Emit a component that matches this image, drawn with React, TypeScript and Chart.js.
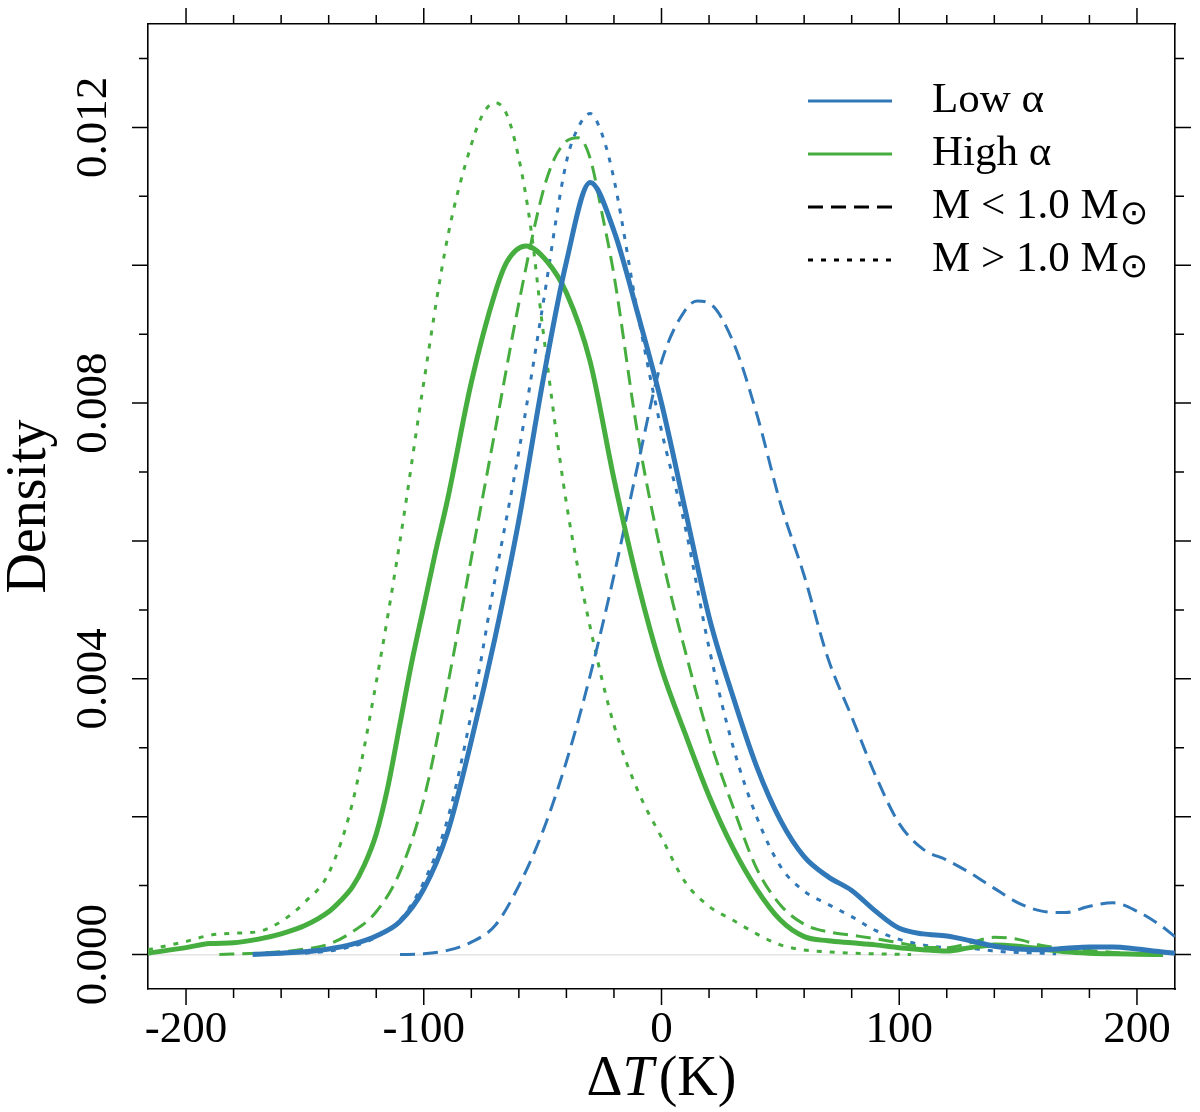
import { useEffect, useRef } from "react"
import { Chart, registerables } from "chart.js"

Chart.register(...registerables)

const BLUE = "#3178b8"
const GREEN = "#46ad3f"
const SERIF = "'Liberation Serif', 'Times New Roman', serif"

// Low alpha, M < 1.0 and M > 1.0 together (solid)
const lowAllT = [-172, -160, -150, -140, -130, -120, -110, -100, -90, -80, -70, -60, -50, -40, -30, -20, -10, 0, 10, 20, 30, 40, 50, 60, 70, 80, 90, 100, 110, 120, 130, 140, 150, 160, 170, 180, 190, 200, 210, 216]
const lowAllD = [0, 0.00002, 0.00004, 0.00008, 0.00015, 0.00027, 0.00048, 0.00095, 0.00177, 0.0031, 0.0046, 0.0063, 0.0083, 0.01005, 0.0112, 0.0105, 0.0093, 0.008, 0.00645, 0.0049, 0.00375, 0.00273, 0.00195, 0.00142, 0.00113, 0.00093, 0.00063, 0.00038, 0.0003, 0.00027, 0.0002, 0.00012, 0.00008, 0.00007, 0.00009, 0.00011, 0.00011, 0.00008, 0.00004, 0.00002]

// Low alpha, M < 1.0 (dashed)
const lowLightT = [-110, -100, -90, -80, -70, -60, -50, -40, -30, -20, -10, 0, 10, 15, 20, 30, 40, 50, 60, 70, 80, 90, 100, 110, 120, 130, 140, 150, 160, 170, 180, 190, 200, 210, 216]
const lowLightD = [0, 0.00001, 0.00006, 0.00018, 0.00042, 0.001, 0.00178, 0.0028, 0.00405, 0.0055, 0.0071, 0.0086, 0.00935, 0.00948, 0.00945, 0.0089, 0.00785, 0.00655, 0.0055, 0.0043, 0.00345, 0.0026, 0.0019, 0.00153, 0.00137, 0.00118, 0.00096, 0.00075, 0.00063, 0.00061, 0.0007, 0.00075, 0.00063, 0.00042, 0.00026]

// Low alpha, M > 1.0 (dotted)
const lowHeavyT = [-150, -140, -130, -120, -110, -100, -90, -80, -70, -60, -50, -40, -35, -30, -25, -20, -10, 0, 10, 20, 30, 40, 50, 60, 70, 80, 90, 100, 110, 120, 130, 140, 150, 160, 166]
const lowHeavyD = [0.00002, 0.00005, 0.00012, 0.00025, 0.0005, 0.00105, 0.00196, 0.0035, 0.00545, 0.0073, 0.0094, 0.0115, 0.012, 0.0122, 0.0119, 0.01125, 0.0093, 0.0076, 0.0062, 0.00445, 0.00303, 0.002, 0.00128, 0.00092, 0.00073, 0.00055, 0.00035, 0.00022, 0.00014, 0.0001, 0.00009, 0.00005, 0.00003, 0.00002, 0.00001]

// High alpha, all masses (solid)
const highAllT = [-216, -200, -190, -180, -170, -160, -150, -140, -135, -130, -125, -120, -115, -110, -105, -100, -95, -90, -80, -70, -65, -57, -48, -40, -30, -20, -10, 0, 10, 20, 30, 40, 50, 60, 70, 80, 90, 100, 110, 120, 130, 140, 150, 160, 170, 180, 190, 200, 211]
const highAllD = [0.00002, 0.0001, 0.00016, 0.00017, 0.00022, 0.0003, 0.00042, 0.00062, 0.00078, 0.00098, 0.0013, 0.00175, 0.00245, 0.00335, 0.00425, 0.00505, 0.00585, 0.0066, 0.0083, 0.0096, 0.01005, 0.01028, 0.01005, 0.0096, 0.0086, 0.0069, 0.0054, 0.00415, 0.0032, 0.0023, 0.00155, 0.00095, 0.0005, 0.00026, 0.0002, 0.00017, 0.00014, 0.0001, 0.00007, 0.00005, 0.0001, 0.00014, 0.00012, 0.00008, 0.00004, 0.00002, 0.00001, 0.000005, 0]

// High alpha, M < 1.0 (dashed)
const highLightT = [-186, -170, -160, -150, -140, -130, -120, -110, -100, -90, -80, -70, -60, -50, -45, -40, -35, -30, -25, -20, -10, 0, 10, 20, 30, 40, 50, 60, 70, 80, 90, 100, 110, 120, 130, 140, 150, 160, 170, 180, 190, 200, 210]
const highLightD = [0, 0.00002, 0.00004, 0.00008, 0.00015, 0.00033, 0.00062, 0.0012, 0.00225, 0.0039, 0.00575, 0.0076, 0.00945, 0.01105, 0.01155, 0.0118, 0.01185, 0.01155, 0.01075, 0.00986, 0.00755, 0.0058, 0.0044, 0.00315, 0.00215, 0.00125, 0.00072, 0.00044, 0.00033, 0.00028, 0.00023, 0.00017, 0.00011, 0.0001, 0.00017, 0.00025, 0.00022, 0.00013, 0.00009, 0.00006, 0.00003, 0.00001, 0]

// High alpha, M > 1.0 (dotted)
const highHeavyT = [-216, -200, -190, -180, -170, -160, -150, -140, -130, -120, -110, -100, -90, -80, -75, -70, -65, -60, -55, -50, -40, -30, -20, -10, 0, 10, 20, 30, 40, 50, 60, 70, 80, 90, 105]
const highHeavyD = [0.00007, 0.00019, 0.00028, 0.00031, 0.00033, 0.00048, 0.00076, 0.00118, 0.0022, 0.00395, 0.006, 0.0083, 0.0104, 0.01175, 0.0122, 0.01236, 0.01218, 0.01155, 0.01055, 0.0091, 0.00655, 0.00475, 0.00333, 0.00238, 0.0017, 0.00105, 0.0007, 0.0005, 0.0003, 0.00014, 0.000065, 0.00004, 0.00002, 0.00001, 0]

// axis ticks
const xLabelTicks = [-200, -100, 0, 100, 200]
const xMinorTicks = [-200, -180, -160, -140, -120, -100, -80, -60, -40, -20, 0, 20, 40, 60, 80, 100, 120, 140, 160, 180, 200]
const yLabelTicks = [0, 0.004, 0.008, 0.012]
const yMajorTicks = [0, 0.002, 0.004, 0.006, 0.008, 0.01, 0.012]
const yMinorTicks = [0, 0.001, 0.002, 0.003, 0.004, 0.005, 0.006, 0.007, 0.008, 0.009, 0.01, 0.011, 0.012, 0.013]

const DASHED = [15, 8]
const DOTTED = [5, 8]

const legendItems = [
  { label: "Low α", color: BLUE, dash: [] as number[], sun: false },
  { label: "High α", color: GREEN, dash: [] as number[], sun: false },
  { label: "M < 1.0 M", color: "#000", dash: DASHED, sun: true },
  { label: "M > 1.0 M", color: "#000", dash: DOTTED, sun: true },
]

const curve = (t: number[], d: number[], color: string, width: number, dash: number[]) => ({
  data: t.map((x, i) => ({ x, y: d[i] })),
  borderColor: color,
  borderWidth: width,
  borderDash: dash,
  borderCapStyle: "butt" as const,
  pointRadius: 0,
  fill: false,
  tension: 0.4,
  cubicInterpolationMode: "monotone" as const,
})

// tick marks, x title and legend drawn on top of the frame
const framePlugin = {
  id: "frame",
  afterDraw(chart: Chart) {
    const { ctx, chartArea: a } = chart
    const xs = chart.scales.x
    const ys = chart.scales.y
    ctx.save()
    ctx.strokeStyle = "#000"
    ctx.lineWidth = 1.5
    ctx.beginPath()
    for (const v of xMinorTicks) {
      const p = xs.getPixelForValue(v)
      const len = xLabelTicks.includes(v) ? 16 : 9
      ctx.moveTo(p, a.bottom)
      ctx.lineTo(p, a.bottom + len)
      ctx.moveTo(p, a.top)
      ctx.lineTo(p, a.top - len)
    }
    for (const v of yMinorTicks) {
      const p = ys.getPixelForValue(v)
      const len = yMajorTicks.includes(v) ? 16 : 9
      ctx.moveTo(a.left, p)
      ctx.lineTo(a.left - len, p)
      ctx.moveTo(a.right, p)
      ctx.lineTo(a.right + len, p)
    }
    ctx.stroke()

    // x axis title: ΔT(K) with italic T
    const parts: [string, string, number][] = [
      ["Δ", `56px ${SERIF}`, 0],
      ["T", `italic 56px ${SERIF}`, 5],
      ["(K)", `56px ${SERIF}`, 0],
    ]
    const widths = parts.map(([t, f, gap]) => {
      ctx.font = f
      return ctx.measureText(t).width + gap
    })
    const total = widths.reduce((s, w) => s + w, 0)
    let tx = (a.left + a.right) / 2 - total / 2
    ctx.fillStyle = "#000"
    ctx.textAlign = "left"
    ctx.textBaseline = "alphabetic"
    parts.forEach(([t, f], i) => {
      ctx.font = f
      ctx.fillText(t, tx, a.bottom + 106)
      tx += widths[i]
    })

    // legend
    legendItems.forEach((item, i) => {
      const base = a.top + 88 + i * 53
      const ly = base - 11
      ctx.strokeStyle = item.color
      ctx.lineWidth = 3
      ctx.setLineDash(item.dash)
      ctx.beginPath()
      ctx.moveTo(a.right - 367, ly)
      ctx.lineTo(a.right - 283, ly)
      ctx.stroke()
      ctx.setLineDash([])
      ctx.fillStyle = "#000"
      ctx.font = `43px ${SERIF}`
      const tx0 = a.right - 243
      ctx.fillText(item.label, tx0, base)
      if (item.sun) {
        const w = ctx.measureText(item.label).width
        ctx.font = "34px 'DejaVu Sans'"
        ctx.fillText("⊙", tx0 + w + 1, base + 6)
      }
    })
    ctx.restore()
  },
}

export default function App() {
  const chartRef = useRef<HTMLCanvasElement>(null)
  const chartInstance = useRef<Chart | null>(null)

  useEffect(() => {
    document.body.style.margin = "0"
    if (!chartRef.current) return
    if (chartInstance.current) {
      chartInstance.current.destroy()
    }
    const ctx = chartRef.current.getContext("2d")
    if (!ctx) return

    const border = { display: true, color: "#000", width: 1.6 }

    chartInstance.current = new Chart(ctx, {
      type: "line",
      data: {
        datasets: [
          curve(lowAllT, lowAllD, BLUE, 5, []),
          curve(highAllT, highAllD, GREEN, 5, []),
          curve(lowLightT, lowLightD, BLUE, 3, DASHED),
          curve(highLightT, highLightD, GREEN, 3, DASHED),
          curve(lowHeavyT, lowHeavyD, BLUE, 3, DOTTED),
          curve(highHeavyT, highHeavyD, GREEN, 3, DOTTED),
        ],
      },
      options: {
        animation: false,
        responsive: false,
        layout: { padding: 0 },
        plugins: {
          legend: { display: false },
          tooltip: { enabled: false },
        },
        scales: {
          x: {
            type: "linear",
            position: "bottom",
            min: -216,
            max: 216,
            afterBuildTicks: (s) => {
              s.ticks = xLabelTicks.map((v) => ({ value: v }))
            },
            afterFit: (s) => {
              s.height = 123
              s.paddingLeft = 0
              s.paddingRight = 0
            },
            ticks: {
              autoSkip: false,
              maxRotation: 0,
              padding: 14,
              color: "#000",
              font: { family: SERIF, size: 45 },
              callback: (v) => String(v),
            },
            grid: { display: false, drawTicks: false },
            border,
          },
          xTop: {
            type: "linear",
            position: "top",
            min: -216,
            max: 216,
            afterFit: (s) => {
              s.height = 24
            },
            ticks: { display: false },
            grid: { display: false, drawTicks: false },
            border,
          },
          y: {
            type: "linear",
            position: "left",
            min: -0.0005,
            max: 0.0135,
            afterBuildTicks: (s) => {
              s.ticks = yLabelTicks.map((v) => ({ value: v }))
            },
            afterFit: (s) => {
              s.width = 148
              s.paddingTop = 0
              s.paddingBottom = 0
            },
            ticks: {
              autoSkip: false,
              minRotation: 90,
              maxRotation: 90,
              crossAlign: "center",
              padding: 3,
              color: "#000",
              font: { family: SERIF, size: 45 },
              callback: (v) => Number(v).toFixed(3),
            },
            grid: {
              drawTicks: false,
              lineWidth: 1.5,
              color: (c) => (c.tick && c.tick.value === 0 ? "#e4e4e4" : "rgba(0,0,0,0)"),
            },
            border,
            title: {
              display: true,
              text: "Density",
              color: "#000",
              font: { family: SERIF, size: 56, lineHeight: 1 },
              padding: { top: 2, bottom: 0 },
            },
          },
          yRight: {
            type: "linear",
            position: "right",
            min: -0.0005,
            max: 0.0135,
            afterFit: (s) => {
              s.width = 25
            },
            ticks: { display: false },
            grid: { display: false, drawTicks: false },
            border,
          },
        },
      },
      plugins: [framePlugin],
    })

    return () => {
      if (chartInstance.current) {
        chartInstance.current.destroy()
        chartInstance.current = null
      }
    }
  }, [])

  return (
    <div style={{ width: 1200, height: 1112, background: "#fff" }}>
      <canvas ref={chartRef} width={1200} height={1112} style={{ display: "block" }} />
    </div>
  )
}
